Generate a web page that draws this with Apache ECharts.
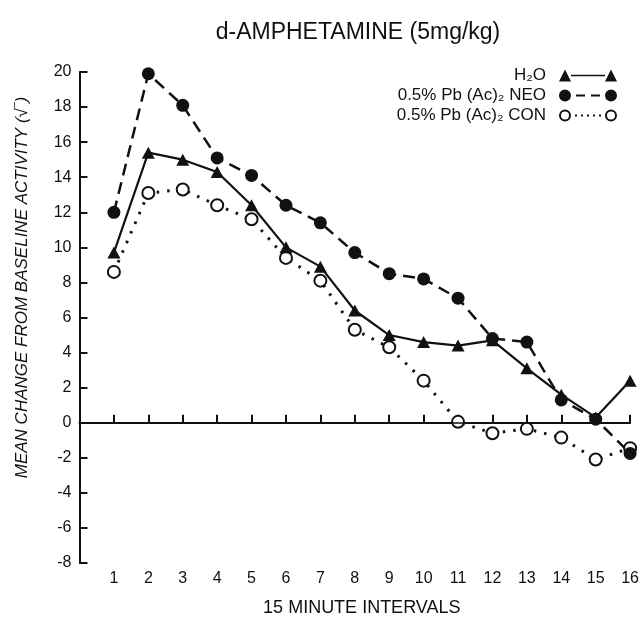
<!DOCTYPE html>
<html lang="en" style="height:100%">
<head>
    <meta charset="UTF-8">
    <title>d-AMPHETAMINE (5mg/kg)</title>
    <script src="https://cdn.jsdelivr.net/npm/echarts@6/dist/echarts.min.js"></script>
</head>
<body style="height:100%;margin:0;background:#fff">
<div id="main" style="width:642px;height:622px;"></div>
<script type="text/javascript">
    // values
    var intervals = [1, 2, 3, 4, 5, 6, 7, 8, 9, 10, 11, 12, 13, 14, 15, 16];
    var h2o = [9.7, 15.4, 15.0, 14.3, 12.4, 10.0, 8.9, 6.4, 5.0, 4.6, 4.4, 4.7, 3.1, 1.6, 0.3, 2.4];
    var neo = [12.0, 19.9, 18.1, 15.1, 14.1, 12.4, 11.4, 9.7, 8.5, 8.2, 7.1, 4.8, 4.6, 1.3, 0.2, -1.75];
    var con = [8.6, 13.1, 13.3, 12.4, 11.6, 9.4, 8.1, 5.3, 4.3, 2.4, 0.05, -0.6, -0.35, -0.85, -2.1, -1.45];
    var names = ['H\u2082O', '0.5% Pb (Ac)\u2082 NEO', '0.5% Pb (Ac)\u2082 CON'];

    function pairs(vals) {
        return intervals.map(function (x, i) { return [x, vals[i]]; });
    }

    var ink = '#111';
    var font = 'Liberation Sans';

    // legend icons: marker - line - marker
    var iconTri = 'path://M0,12 L6,0 L12,12 Z M12,5.3 L46,5.3 L46,6.7 L12,6.7 Z M46,12 L52,0 L58,12 Z';
    var iconNeo = 'path://M0,6 A6,6 0 1,1 12,6 A6,6 0 1,1 0,6 Z M17,5 L26,5 L26,7 L17,7 Z M32,5 L41,5 L41,7 L32,7 Z M46,6 A6,6 0 1,1 58,6 A6,6 0 1,1 46,6 Z';
    var iconCon = 'path://M0,6 A6,6 0 1,1 12,6 A6,6 0 1,1 0,6 Z M2,6 A4,4 0 1,0 10,6 A4,4 0 1,0 2,6 Z ' +
        'M16,5 L18,5 L18,7 L16,7 Z M22,5 L24,5 L24,7 L22,7 Z M28,5 L30,5 L30,7 L28,7 Z M34,5 L36,5 L36,7 L34,7 Z M40,5 L42,5 L42,7 L40,7 Z ' +
        'M46,6 A6,6 0 1,1 58,6 A6,6 0 1,1 46,6 Z M48,6 A4,4 0 1,0 56,6 A4,4 0 1,0 48,6 Z';

    var myChart = echarts.init(document.getElementById('main'));
    var option = {
        backgroundColor: '#fff',
        animation: false,
        title: {
            text: 'd-AMPHETAMINE (5mg/kg)',
            left: 353,
            textAlign: 'center',
            top: 16,
            textStyle: { fontFamily: font, fontSize: 23, fontWeight: 'normal', color: ink }
        },
        legend: {
            orient: 'vertical',
            right: 20,
            top: 62,
            align: 'right',
            itemWidth: 62,
            itemHeight: 12,
            itemGap: 3,
            selectedMode: false,
            itemStyle: { color: ink, borderWidth: 0 },
            textStyle: { fontFamily: font, fontSize: 17, color: ink, lineHeight: 16, padding: [0, 6, 0, 0] },
            data: [
                { name: names[0], icon: iconTri },
                { name: names[1], icon: iconNeo },
                { name: names[2], icon: iconCon }
            ]
        },
        grid: { left: 79.5, right: 10, top: 72, bottom: 53 },
        xAxis: {
            type: 'value',
            min: 0,
            max: 16,
            interval: 1,
            name: '15 MINUTE INTERVALS',
            nameLocation: 'middle',
            nameGap: 36,
            nameTextStyle: { fontFamily: font, fontSize: 18, color: ink, padding: [0, 0, 0, 14] },
            axisLine: { lineStyle: { color: ink, width: 2 } },
            axisTick: { inside: true, length: 8, lineStyle: { color: ink, width: 2 } },
            axisLabel: {
                margin: 8,
                fontFamily: font, fontSize: 16, color: ink,
                formatter: function (v) { return v === 0 ? '' : v; }
            },
            splitLine: { show: false }
        },
        yAxis: {
            type: 'value',
            min: -8,
            max: 20,
            interval: 2,
            name: 'MEAN CHANGE FROM BASELINE ACTIVITY (\u221A\u203E)',
            nameLocation: 'middle',
            nameGap: 49,
            nameTextStyle: { fontFamily: font, fontSize: 17, fontStyle: 'italic', color: ink, padding: [0, 0, 0, 60] },
            axisLine: { lineStyle: { color: ink, width: 2 } },
            axisTick: { inside: true, length: 8, lineStyle: { color: ink, width: 2 } },
            axisLabel: { margin: 8, fontFamily: font, fontSize: 16, color: ink },
            splitLine: { show: false }
        },
        series: [
            {
                name: names[2],
                type: 'line',
                data: pairs(con),
                symbol: 'emptyCircle',
                symbolSize: 12,
                itemStyle: { color: ink, borderWidth: 2 },
                lineStyle: { color: ink, width: 3, type: [2.5, 8] },
                markLine: {
                    silent: true,
                    symbol: 'none',
                    label: { show: false },
                    lineStyle: { color: ink, width: 1.5, type: 'solid' },
                    data: [{ yAxis: 0 }]
                }
            },
            {
                name: names[0],
                type: 'line',
                data: pairs(h2o),
                symbol: 'triangle',
                symbolSize: [13, 12],
                itemStyle: { color: ink },
                lineStyle: { color: ink, width: 2.2 }
            },
            {
                name: names[1],
                type: 'line',
                data: pairs(neo),
                symbol: 'circle',
                symbolSize: 13,
                itemStyle: { color: ink },
                lineStyle: { color: ink, width: 2.5, type: [12, 7] }
            }
        ]
    };
    myChart.setOption(option);
</script>
</body>
</html>
